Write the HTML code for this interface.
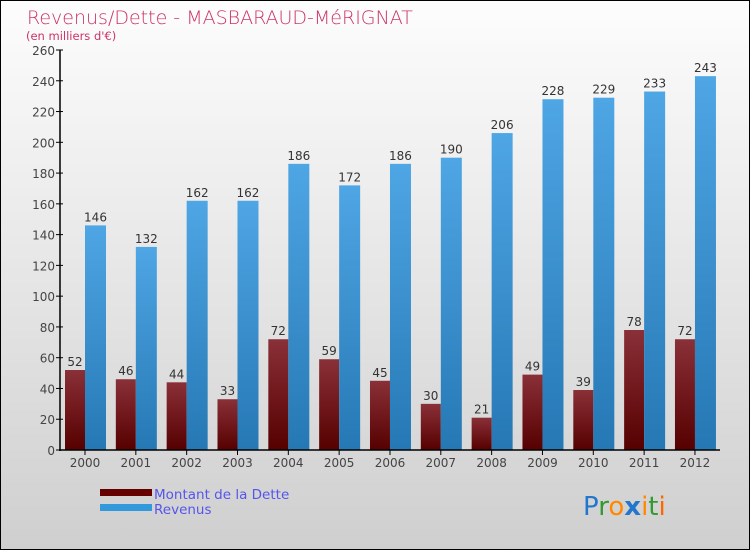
<!DOCTYPE html>
<html><head><meta charset="utf-8"><style>
body{margin:0}
#c{width:750px;height:550px;position:relative;box-sizing:border-box;border:1px solid #000;background:linear-gradient(#fdfdfd,#cfcfcf);font-family:"DejaVu Sans","Liberation Sans",sans-serif;overflow:hidden}
</style></head><body>
<div id="c">
<svg id="s" width="750" height="550" style="position:absolute;left:-1px;top:-1px">
<defs>
<linearGradient id="gd" x1="0" y1="0" x2="0" y2="1"><stop offset="0" stop-color="#8a3038"/><stop offset="1" stop-color="#560000"/></linearGradient>
<linearGradient id="gr" x1="0" y1="0" x2="0" y2="1"><stop offset="0" stop-color="#4fa6e4"/><stop offset="1" stop-color="#2578b4"/></linearGradient>
</defs>
<text x="27" y="24" font-size="19" fill="#cc3366" font-family="DejaVu Sans, sans-serif" font-weight="200">Revenus/Dette - MASBARAUD-MéRIGNAT</text>
<text x="26" y="40" font-size="11.5" fill="#cc3366">(en milliers d'€)</text>
<g id="g"></g>
<rect x="100" y="489" width="52" height="7" fill="#660000"/>
<rect x="100" y="504" width="52" height="7" fill="#3399dd"/>
<text x="154" y="499" font-size="13.5" fill="#5555ee">Montant de la Dette</text>
<text x="154" y="514" font-size="13.5" fill="#5555ee">Revenus</text>
<text x="583" y="515" font-size="26" font-family="DejaVu Sans, sans-serif"><tspan fill="#2277cc">P</tspan><tspan fill="#339933">r</tspan><tspan fill="#ff8800">o</tspan><tspan fill="#2277cc" font-weight="bold">x</tspan><tspan fill="#ff8800">i</tspan><tspan fill="#339933">t</tspan><tspan fill="#ff6600">i</tspan></text>
</svg>
</div>
<script>
const years=["2000","2001","2002","2003","2004","2005","2006","2007","2008","2009","2010","2011","2012"];
const debt=[52,46,44,33,72,59,45,30,21,49,39,78,72];
const revenue=[146,132,162,162,186,172,186,190,206,228,229,233,243];
const yTicks=[0,20,40,60,80,100,120,140,160,180,200,220,240,260];
const NS="http://www.w3.org/2000/svg";
const g=document.getElementById('g');
const y0=450,yTop=50,yMax=260,x0=65,step=50.83;
function yS(v){return y0-(v/yMax)*(y0-yTop);}
function mk(t,a){const e=document.createElementNS(NS,t);for(const k in a)e.setAttribute(k,a[k]);g.appendChild(e);return e;}
yTicks.forEach(v=>{
 const y=yS(v);
 const l=mk('line',{x1:56,x2:63,y1:y,y2:y,stroke:'#000'});
 
 
 const t=mk('text',{x:55,y:y+5,'text-anchor':'end','font-size':12,fill:'#444'});t.textContent=v;
 
 
});
years.forEach((yr,i)=>{
 const xd=x0+i*step,xr=xd+20;
 const bd=mk('rect',{x:xd,y:yS(debt[i]),width:20,height:y0-yS(debt[i]),fill:'url(#gd)'});
 
 
 const br=mk('rect',{x:xr,y:yS(revenue[i]),width:21,height:y0-yS(revenue[i]),fill:'url(#gr)'});
 
 
 const td=mk('text',{x:xd+10,y:yS(debt[i])-4,'text-anchor':'middle','font-size':12,fill:'#333'});td.textContent=debt[i];
 
 
 const tr=mk('text',{x:xr+10.5,y:yS(revenue[i])-4,'text-anchor':'middle','font-size':12,fill:'#333'});tr.textContent=revenue[i];
 
 
 const tk=mk('line',{x1:xr,x2:xr,y1:450,y2:455,stroke:'#000'});
 
 
 const tx=mk('text',{x:xr,y:467,'text-anchor':'middle','font-size':12,fill:'#444'});tx.textContent=yr;
 
 
});
const ay=mk('line',{x1:60,x2:60,y1:50,y2:451,stroke:'#000','stroke-width':1.5});


const ax=mk('line',{x1:59,x2:720,y1:450,y2:450,stroke:'#000','stroke-width':1.5});


</script>
</body></html>
